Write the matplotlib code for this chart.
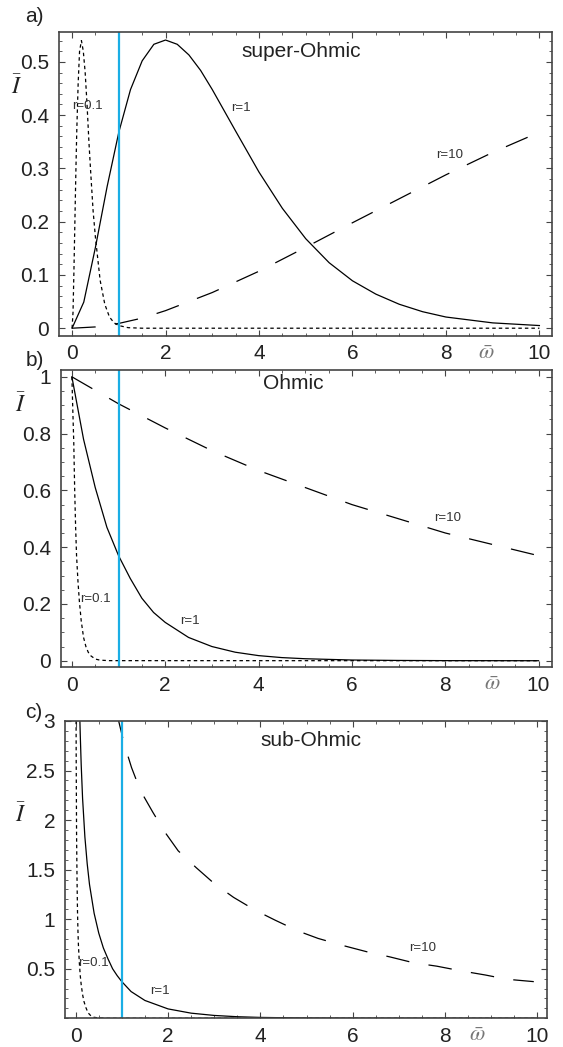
import matplotlib
matplotlib.use("Agg")
import matplotlib.pyplot as plt
from matplotlib.ticker import MultipleLocator
import matplotlib.transforms as mtransforms

plt.rcParams['font.family'] = ['Liberation Sans', 'DejaVu Sans']
plt.rcParams['mathtext.fontset'] = 'stix'
plt.rcParams['lines.scale_dashes'] = False

# ---- data ----
# a) super-Ohmic
a_w01 = [0, 0.02, 0.04, 0.06, 0.08, 0.1, 0.13, 0.16, 0.2, 0.24, 0.28, 0.32, 0.36, 0.4, 0.45, 0.5, 0.6, 0.7, 0.8, 0.9, 1.0, 1.2, 1.5, 10]
a_I01 = [0, 0.03, 0.11, 0.2, 0.29, 0.37, 0.46, 0.52, 0.54, 0.52, 0.48, 0.42, 0.35, 0.29, 0.22, 0.17, 0.09, 0.045, 0.021, 0.01, 0.005, 0.001, 0, 0]
a_w1 = [0, 0.25, 0.5, 0.75, 1.0, 1.25, 1.5, 1.75, 2.0, 2.25, 2.5, 2.75, 3.0, 3.5, 4.0, 4.5, 5.0, 5.5, 6.0, 6.5, 7.0, 7.5, 8.0, 9.0, 10.0]
a_I1 = [0, 0.049, 0.152, 0.266, 0.368, 0.448, 0.502, 0.533, 0.541, 0.533, 0.513, 0.484, 0.448, 0.37, 0.293, 0.225, 0.168, 0.123, 0.089, 0.064, 0.045, 0.031, 0.021, 0.01, 0.005]
a_w10 = [0, 0.5, 1, 1.5, 2, 3, 4, 5, 6, 7, 8, 9, 10]
a_I10 = [0, 0.0024, 0.009, 0.019, 0.033, 0.067, 0.107, 0.152, 0.198, 0.243, 0.288, 0.33, 0.368]

# b) Ohmic
b_w01 = [0, 0.02, 0.04, 0.06, 0.08, 0.1, 0.13, 0.16, 0.2, 0.25, 0.3, 0.35, 0.4, 0.5, 0.6, 0.8, 10]
b_I01 = [1, 0.88, 0.77, 0.6, 0.47, 0.37, 0.28, 0.21, 0.14, 0.082, 0.05, 0.03, 0.018, 0.006, 0.002, 0.0003, 0]
b_w1 = [0, 0.25, 0.5, 0.75, 1, 1.25, 1.5, 1.75, 2, 2.5, 3, 3.5, 4, 4.5, 5, 6, 7, 8, 10]
b_I1 = [1, 0.78, 0.61, 0.47, 0.37, 0.29, 0.22, 0.17, 0.135, 0.082, 0.05, 0.03, 0.018, 0.011, 0.007, 0.0025, 0.001, 0.0003, 0]
b_w10 = [0, 1, 2, 3, 4, 5, 6, 7, 8, 9, 10]
b_I10 = [1, 0.905, 0.82, 0.74, 0.67, 0.61, 0.55, 0.5, 0.45, 0.41, 0.37]

# c) sub-Ohmic
c_w01 = [0.008, 0.012, 0.02, 0.03, 0.04, 0.05, 0.06, 0.08, 0.1, 0.12, 0.15, 0.18, 0.22, 0.27, 0.33, 0.4, 0.5, 0.7, 1.0, 10]
c_I01 = [3.2, 2.6, 1.85, 1.4, 1.08, 0.88, 0.74, 0.56, 0.43, 0.34, 0.24, 0.17, 0.11, 0.055, 0.025, 0.01, 0.004, 0.0005, 0, 0]
c_w1 = [0.08, 0.1, 0.12, 0.15, 0.2, 0.25, 0.3, 0.4, 0.5, 0.6, 0.7, 0.8, 0.9, 1.0, 1.2, 1.5, 2.0, 2.5, 3.0, 3.5, 4.0, 5, 6, 8, 10]
c_I1 = [3.2, 2.86, 2.56, 2.22, 1.83, 1.56, 1.35, 1.06, 0.86, 0.71, 0.6, 0.5, 0.43, 0.37, 0.27, 0.18, 0.095, 0.052, 0.029, 0.016, 0.009, 0.003, 0.001, 0.0001, 0]
c_w10 = [0.9, 1.05, 1.21, 1.4, 1.67, 1.93, 2.22, 2.61, 3.0, 3.42, 3.89, 4.32, 4.82, 5.25, 5.8, 6.3, 6.8, 7.32, 7.82, 8.33, 8.87, 9.34, 9.92]
c_I10 = [3.06, 2.77, 2.53, 2.3, 2.08, 1.88, 1.69, 1.52, 1.36, 1.22, 1.09, 0.99, 0.88, 0.806, 0.733, 0.672, 0.62, 0.56, 0.526, 0.48, 0.437, 0.394, 0.37]

panels = [
    dict(tag="a)", title="super-Ohmic", pos=[0.1048, 0.6794, 0.8757, 0.29],
         xlim=(-0.28, 10.27), ylim=(-0.014, 0.556), ymin=0.02,
         yticks=[0, 0.1, 0.2, 0.3, 0.4, 0.5], ylabels=["0", "0.1", "0.2", "0.3", "0.4", "0.5"],
         curves=[(a_w01, a_I01), (a_w1, a_I1), (a_w10, a_I10)],
         title_xy=(4.9, 0.52), rlab=[(0.33, 0.417), (3.62, 0.413), (8.08, 0.326)],
         tag_xy=(34, 17), ibar_xy=(17, 87), omega_x=8.87),
    dict(tag="b)", title="Ohmic", pos=[0.1078, 0.3627, 0.872, 0.2839],
         xlim=(-0.24, 10.28), ylim=(-0.023, 1.024), ymin=0.05,
         yticks=[0, 0.2, 0.4, 0.6, 0.8, 1.0], ylabels=["0", "0.2", "0.4", "0.6", "0.8", "1"],
         curves=[(b_w01, b_I01), (b_w1, b_I1), (b_w10, b_I10)],
         title_xy=(4.75, 0.975), rlab=[(0.5, 0.216), (2.53, 0.139), (8.05, 0.503)],
         tag_xy=(35, 360), ibar_xy=(21, 405), omega_x=9.0),
    dict(tag="c)", title="sub-Ohmic", pos=[0.1155, 0.0274, 0.8556, 0.284],
         xlim=(-0.23, 10.2), ylim=(0.0, 3.0), ymin=0.1,
         yticks=[0.5, 1, 1.5, 2, 2.5, 3], ylabels=["0.5", "1", "1.5", "2", "2.5", "3"],
         curves=[(c_w01, c_I01), (c_w1, c_I1), (c_w10, c_I10)],
         title_xy=(5.1, 2.8), rlab=[(0.39, 0.56), (1.83, 0.28), (7.51, 0.705)],
         tag_xy=(34, 712), ibar_xy=(21, 815), omega_x=8.7),
]
rnames = ["r=0.1", "r=1", "r=10"]
styles = [dict(dashes=(2.5, 2.2)), dict(linestyle="-"), dict(dashes=(17, 14))]

fig = plt.figure(figsize=(5.63, 10.47), dpi=100)
W, H = 563, 1047

for p in panels:
    ax = fig.add_axes(p["pos"])
    for (w, I), st in zip(p["curves"], styles):
        ax.plot(w, I, color="black", lw=0.9, **st)
    ax.axvline(1.0, color="#1aaee5", lw=1.6)
    ax.set_xlim(*p["xlim"])
    ax.set_ylim(*p["ylim"])
    ax.xaxis.set_major_locator(MultipleLocator(2))
    ax.xaxis.set_minor_locator(MultipleLocator(0.5))
    ax.set_yticks(p["yticks"])
    ax.set_yticklabels(p["ylabels"])
    ax.yaxis.set_minor_locator(MultipleLocator(p["ymin"]))
    ax.tick_params(which="both", direction="in", top=True, right=True,
                   colors="#444", labelcolor="#222", labelsize=15)
    ax.tick_params(which="major", length=4, width=0.8)
    ax.tick_params(which="minor", length=2.2, width=0.6)
    ax.tick_params(axis="y", pad=7)
    ax.tick_params(axis="x", pad=6)
    for s in ax.spines.values():
        s.set_color("#444")
        s.set_linewidth(1.2)

    ax.text(*p["title_xy"], p["title"], fontsize=15, color="#222", ha="center", va="center")
    for (x, y), name in zip(p["rlab"], rnames):
        ax.text(x, y, name, fontsize=9.5, color="#333", ha="center", va="center")

    # omega-bar sits in the tick label row
    trans = mtransforms.blended_transform_factory(ax.transData, ax.transAxes)
    ax.text(p["omega_x"], -0.058, r"$\bar{\omega}$", transform=trans, fontsize=16,
            color="#777", ha="center", va="center")

    tx, ty = p["tag_xy"]
    fig.text(tx / W, 1 - ty / H, p["tag"], fontsize=15, color="#222", ha="center", va="center")
    ix, iy = p["ibar_xy"]
    fig.text(ix / W, 1 - iy / H, r"$\bar{I}$", fontsize=17, color="#222", ha="center", va="center")

fig.savefig("out.png", dpi=100)
